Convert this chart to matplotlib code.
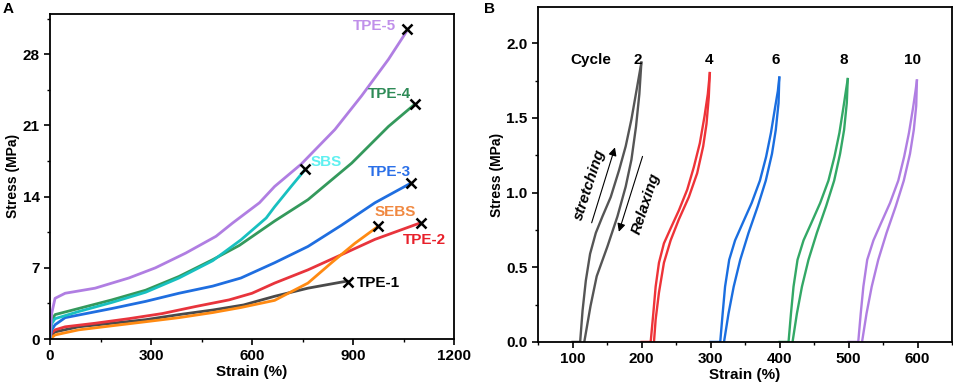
import matplotlib.pyplot as plt
from matplotlib.ticker import MultipleLocator

plt.rcParams['font.family'] = ['Liberation Sans', 'DejaVu Sans']
plt.rcParams['font.weight'] = 'bold'
plt.rcParams['axes.labelweight'] = 'bold'
plt.rcParams['font.size'] = 11

# %%
# Panel A: stress-strain curves (strain %, stress MPa)
tpe1_strain = [0, 5, 15, 85, 184, 284, 383, 483, 575, 667, 766, 866, 884]
tpe1_stress = [0, 0.4, 0.7, 1.2, 1.55, 1.9, 2.4, 2.85, 3.35, 4.2, 5.0, 5.6, 5.7]
tpe2_strain = [0, 5, 15, 45, 134, 234, 333, 433, 532, 600, 667, 766, 866, 965, 1098]
tpe2_stress = [0, 0.6, 0.9, 1.2, 1.55, 2.0, 2.5, 3.2, 3.85, 4.5, 5.5, 6.8, 8.3, 9.8, 11.4]
tpe3_strain = [0, 5, 15, 45, 184, 284, 383, 483, 567, 667, 766, 866, 965, 1070]
tpe3_stress = [0, 0.9, 1.4, 2.1, 3.0, 3.7, 4.5, 5.2, 6.0, 7.5, 9.1, 11.2, 13.4, 15.3]
tpe4_strain = [0, 5, 15, 85, 184, 284, 383, 483, 562, 667, 766, 896, 1005, 1080]
tpe4_stress = [0, 1.8, 2.4, 3.0, 3.85, 4.8, 6.15, 7.8, 9.2, 11.6, 13.7, 17.3, 20.9, 23.0]
tpe5_strain = [0, 5, 15, 45, 134, 234, 313, 403, 493, 542, 622, 667, 746, 846, 925, 1005, 1058]
tpe5_stress = [0, 2.5, 4.0, 4.5, 5.0, 6.0, 7.0, 8.45, 10.1, 11.4, 13.4, 15.0, 17.2, 20.6, 23.9, 27.5, 30.2]
sbs_strain = [0, 5, 15, 85, 184, 284, 383, 483, 567, 642, 667, 716, 756]
sbs_stress = [0, 1.5, 2.0, 2.7, 3.6, 4.6, 6.0, 7.7, 9.75, 11.9, 13.0, 15.0, 16.6]
sebs_strain = [0, 15, 85, 184, 284, 383, 483, 567, 667, 766, 836, 905, 971]
sebs_stress = [0, 0.4, 0.9, 1.3, 1.7, 2.1, 2.6, 3.1, 3.8, 5.5, 7.5, 9.4, 11.0]

# break points (x marks)
break_strain = [884, 1101, 1073, 1083, 1060, 758, 973]
break_stress = [5.6, 11.4, 15.35, 23.1, 30.5, 16.7, 11.1]

a_xticks = [0, 300, 600, 900, 1200]
a_yticks = [0, 7, 14, 21, 28]

# %%
# Panel B: cyclic loading / unloading
c2_load_x = [100, 111, 114.5, 119.2, 125.4, 133.7, 143.3, 155.3, 167.4, 177.0, 185.3, 192.9, 199.7]
c2_load_y = [0, 0, 0.21, 0.41, 0.59, 0.73, 0.84, 0.97, 1.15, 1.31, 1.49, 1.69, 1.87]
c2_unld_x = [199.7, 196.8, 191.9, 185.3, 177.0, 165.0, 150.6, 135.0, 126.0, 117.0]
c2_unld_y = [1.87, 1.66, 1.44, 1.22, 1.04, 0.84, 0.64, 0.44, 0.24, 0]
c4_load_x = [200, 213.2, 217.0, 220.4, 225.2, 232.4, 242.1, 254.0, 266.2, 275.7, 284.4, 291.2, 296.0, 298.9]
c4_load_y = [0, 0, 0.19, 0.37, 0.53, 0.66, 0.76, 0.88, 1.02, 1.17, 1.33, 1.51, 1.66, 1.80]
c4_unld_x = [298.9, 297.4, 294.1, 289.3, 280.6, 268.5, 254.0, 242.1, 232.4, 225.2, 220.4, 218.0]
c4_unld_y = [1.80, 1.64, 1.46, 1.31, 1.13, 0.97, 0.82, 0.68, 0.53, 0.33, 0.15, 0]
c6_load_x = [300, 314, 317.5, 321, 327, 335.5, 346, 359.5, 371.5, 380.5, 387.5, 393.5, 397.5, 399.6]
c6_load_y = [0, 0, 0.19, 0.37, 0.55, 0.68, 0.79, 0.93, 1.08, 1.24, 1.40, 1.57, 1.68, 1.77]
c6_unld_x = [399.6, 398.5, 394.5, 389, 380, 368.5, 355, 343, 333.5, 326, 319.5]
c6_unld_y = [1.77, 1.60, 1.42, 1.26, 1.08, 0.91, 0.73, 0.55, 0.37, 0.19, 0]
c8_load_x = [400, 413.0, 416.5, 420.2, 426.0, 434.7, 445.4, 458.8, 470.8, 479.5, 486.7, 492.5, 496.4, 498.8]
c8_load_y = [0, 0, 0.19, 0.37, 0.55, 0.68, 0.79, 0.93, 1.08, 1.24, 1.40, 1.57, 1.69, 1.76]
c8_unld_x = [498.8, 497.4, 493.5, 487.7, 479.1, 467.5, 454.0, 441.9, 432.4, 425.1, 418.8]
c8_unld_y = [1.76, 1.60, 1.42, 1.26, 1.08, 0.91, 0.73, 0.55, 0.37, 0.19, 0]
c10_load_x = [500, 514, 517.6, 521.4, 527, 536, 546.5, 560, 572, 580.5, 587.5, 593.5, 597, 599]
c10_load_y = [0, 0, 0.19, 0.37, 0.55, 0.68, 0.79, 0.93, 1.08, 1.24, 1.40, 1.57, 1.68, 1.75]
c10_unld_x = [599, 598, 594.5, 589, 580, 568.5, 555, 543, 533.5, 526, 519.5]
c10_unld_y = [1.75, 1.58, 1.42, 1.26, 1.08, 0.91, 0.73, 0.55, 0.37, 0.19, 0]

cycle_labels = ['2', '4', '6', '8', '10']
cycle_label_x = [194, 297, 394, 493, 593]

b_xticks = [100, 200, 300, 400, 500, 600]
b_yticks = [0.0, 0.5, 1.0, 1.5, 2.0]

# %%
fig = plt.figure(figsize=(9.54, 3.89), dpi=100)
axA = fig.add_axes([0.0524, 0.1285, 0.4236, 0.8365])
axB = fig.add_axes([0.564, 0.121, 0.434, 0.860])

def style(ax):
    for s in ax.spines.values():
        s.set_linewidth(1.3)
    ax.tick_params(which='major', direction='out', length=4, width=1.2)
    ax.tick_params(which='minor', direction='out', length=2.5, width=1.0)

# panel A
curves = [
    (tpe1_strain, tpe1_stress, '#4a4a4a'),
    (tpe2_strain, tpe2_stress, '#e8343c'),
    (sebs_strain, sebs_stress, '#ff8a12'),
    (tpe3_strain, tpe3_stress, '#1f6ee0'),
    (tpe4_strain, tpe4_stress, '#34995c'),
    (sbs_strain, sbs_stress, '#18c0c0'),
    (tpe5_strain, tpe5_stress, '#b07ee2'),
]
for x, y, c in curves:
    axA.plot(x, y, color=c, lw=2.0, solid_capstyle='round')
axA.plot(break_strain, break_stress, 'x', color='k', ms=7, mew=1.8)

axA.text(964, 30.8, 'TPE-5', color='#c090ea', ha='center', va='center')
axA.text(1009, 24.1, 'TPE-4', color='#2e8b57', ha='center', va='center')
axA.text(821, 17.4, 'SBS', color='#5ef0f0', ha='center', va='center')
axA.text(1009, 16.4, 'TPE-3', color='#2a6fe8', ha='center', va='center')
axA.text(1025, 12.45, 'SEBS', color='#f08840', ha='center', va='center')
axA.text(1113, 9.7, 'TPE-2', color='#e8202a', ha='center', va='center')
axA.text(910, 5.5, 'TPE-1', color='k', ha='left', va='center')

axA.set_xlim(0, 1200)
axA.set_ylim(0, 32)
axA.set_xticks(a_xticks, [str(v) for v in a_xticks], fontweight='bold', fontsize=11)
axA.set_yticks(a_yticks, [str(v) for v in a_yticks], fontweight='bold', fontsize=11)
axA.xaxis.set_minor_locator(MultipleLocator(150))
axA.yaxis.set_minor_locator(MultipleLocator(3.5))
axA.set_xlabel('Strain (%)', labelpad=1, fontsize=11)
axA.set_ylabel('Stress (MPa)', labelpad=2, fontsize=10)
style(axA)

# panel B
cycles = [
    (c2_load_x, c2_load_y, c2_unld_x, c2_unld_y, '#555555'),
    (c4_load_x, c4_load_y, c4_unld_x, c4_unld_y, '#ee3338'),
    (c6_load_x, c6_load_y, c6_unld_x, c6_unld_y, '#1a6ee0'),
    (c8_load_x, c8_load_y, c8_unld_x, c8_unld_y, '#33a866'),
    (c10_load_x, c10_load_y, c10_unld_x, c10_unld_y, '#b07ee2'),
]
for lx, ly, ux, uy, c in cycles:
    axB.plot(lx, ly, color=c, lw=1.7)
    axB.plot(ux, uy, color=c, lw=1.7)

axB.text(126, 1.89, 'Cycle', ha='center', va='center')
for lab, lx in zip(cycle_labels, cycle_label_x):
    axB.text(lx, 1.89, lab, ha='center', va='center')

axB.annotate('', xy=(162.6, 1.32), xytext=(126.5, 0.78),
             arrowprops=dict(arrowstyle='-|>', lw=0.8, color='k', mutation_scale=12))
axB.annotate('', xy=(165.9, 0.72), xytext=(202.6, 1.26),
             arrowprops=dict(arrowstyle='-|>', lw=0.8, color='k', mutation_scale=12))
axB.text(124, 1.05, 'stretching', rotation=72, style='italic', ha='center', va='center')
axB.text(207, 0.93, 'Relaxing', rotation=72, style='italic', ha='center', va='center')

axB.set_xlim(50, 650)
axB.set_ylim(0, 2.24)
axB.set_xticks(b_xticks, [str(v) for v in b_xticks], fontweight='bold', fontsize=11)
axB.set_yticks(b_yticks, ['%.1f' % v for v in b_yticks], fontweight='bold', fontsize=11)
axB.xaxis.set_minor_locator(MultipleLocator(50))
axB.yaxis.set_minor_locator(MultipleLocator(0.25))
axB.set_xlabel('Strain (%)', labelpad=1, fontsize=11)
axB.set_ylabel('Stress (MPa)', labelpad=2, fontsize=10)
style(axB)

fig.text(0.003, 0.978, 'A', fontsize=11, va='center')
fig.text(0.507, 0.978, 'B', fontsize=11, va='center')

fig.savefig('out.png', dpi=100)
